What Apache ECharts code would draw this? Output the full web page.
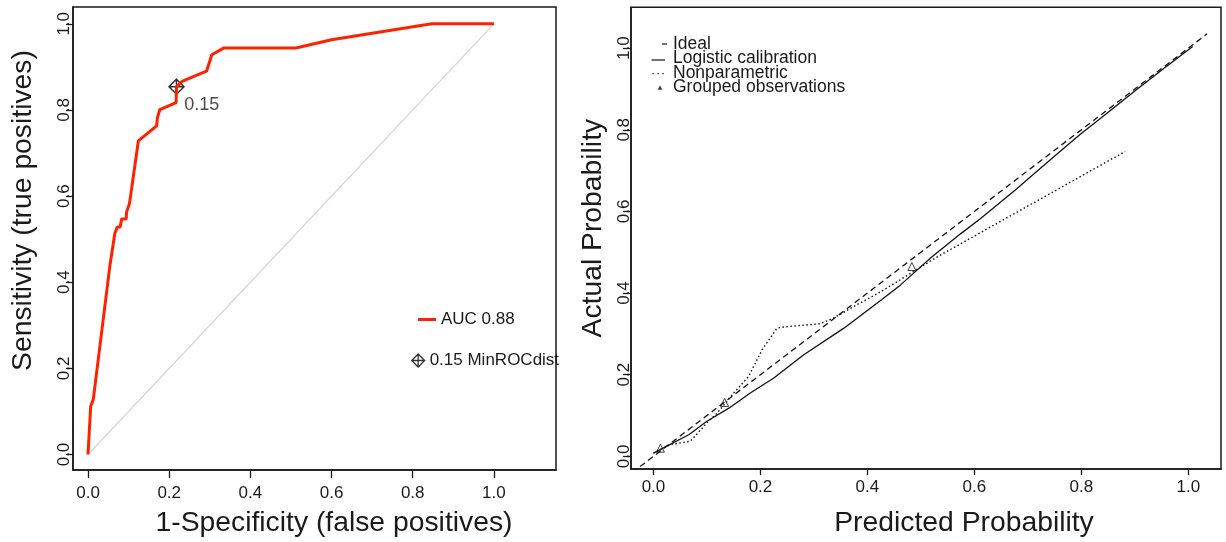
<!DOCTYPE html>
<html><head><meta charset="utf-8">
<script src="https://cdn.jsdelivr.net/npm/echarts@6/dist/echarts.min.js"></script>
<style>html,body{margin:0;padding:0;background:#fff}#c{width:1226px;height:542px}</style>
</head><body><div id="c"></div>
<script>
// ---- data ----
const tickValues = [0, 0.2, 0.4, 0.6, 0.8, 1.0];
const rocFpr = [0, 0.0066, 0.013, 0.054, 0.066, 0.072, 0.079, 0.083, 0.094, 0.095, 0.102, 0.105, 0.124, 0.169, 0.171, 0.177, 0.217, 0.218, 0.233, 0.292, 0.305, 0.335, 0.512, 0.600, 0.847, 1.0];
const rocTpr = [0, 0.112, 0.128, 0.439, 0.513, 0.528, 0.528, 0.547, 0.547, 0.563, 0.582, 0.601, 0.728, 0.763, 0.782, 0.801, 0.817, 0.854, 0.867, 0.890, 0.928, 0.944, 0.944, 0.963, 1.0, 1.0];
const chanceX = [0, 1];
const chanceY = [0, 1];
const cutoffPoint = [0.218, 0.854];
const cutoffLabel = '0.15';
const aucName = 'AUC 0.88';
const cutoffName = '0.15 MinROCdist';
const idealX = [-0.025, 1.035];
const idealY = [-0.025, 1.035];
const logisticPred = [0.0, 0.066, 0.100, 0.141, 0.181, 0.225, 0.281, 0.356, 0.427, 0.462, 0.518, 0.574, 0.611, 0.677, 0.698, 0.755, 0.798, 0.836, 0.904, 0.954, 1.008];
const logisticObs  = [0.008, 0.053, 0.086, 0.118, 0.155, 0.192, 0.249, 0.314, 0.384, 0.420, 0.486, 0.545, 0.582, 0.653, 0.677, 0.741, 0.789, 0.828, 0.899, 0.950, 1.004];
const nonparPred = [0.0, 0.032, 0.069, 0.100, 0.119, 0.150, 0.178, 0.203, 0.231, 0.244, 0.312, 0.337, 0.374, 0.418, 0.462, 0.527, 0.882];
const nonparObs  = [0.008, 0.029, 0.037, 0.082, 0.106, 0.155, 0.196, 0.261, 0.314, 0.317, 0.325, 0.339, 0.367, 0.398, 0.433, 0.486, 0.747];
const groupedPred = [0.013, 0.133, 0.483];
const groupedObs  = [0.020, 0.132, 0.465];
const calNames = ['Ideal', 'Logistic calibration', 'Nonparametric', 'Grouped observations'];

// ---- helpers ----
const zip = (a, b) => a.map((v, i) => [v, b[i]]);
const FONT = '"Liberation Sans", Arial, Helvetica, sans-serif';
const INK = '#1a1a1a';
const DIAMOND = 'path://M10,0 L20,10 L10,20 L0,10 Z M10,0 L10,20 M0,10 L20,10';
// legend glyphs drawn in a 17x6 box (first two moves fix the box)
const ICON_IDEAL = 'path://M0,0 M17,6 M11,2.4 L16,2.4 L16,3.6 L11,3.6 Z';
const ICON_LOGIT = 'path://M0,0 M17,6 M0.5,3.9 L14,3.9 L14,5.1 L0.5,5.1 Z';
const ICON_NONPAR = 'path://M0,0 M17,6 M1.5,3 L2.7,3 L2.7,4.2 L1.5,4.2 Z M6.5,3 L7.7,3 L7.7,4.2 L6.5,4.2 Z M11.5,3 L12.7,3 L12.7,4.2 L11.5,4.2 Z';
const ICON_TRI = 'path://M0,0 M17,6 M6.6,5.2 L9,0.8 L11.4,5.2 Z';

function valAxis(gridIndex, min, max, name, extra) {
  const ax = {
    type: 'value', gridIndex, min, max, name,
    nameLocation: 'middle',
    splitLine: { show: false },
    axisLine: { show: true, onZero: false, lineStyle: { color: INK, width: 1.5 } },
    axisTick: { show: true, customValues: tickValues, length: 7, lineStyle: { color: INK, width: 1.3 } },
    axisLabel: { customValues: tickValues, formatter: v => v.toFixed(1), fontSize: 17, color: INK, fontFamily: FONT },
    nameTextStyle: { fontSize: 28.3, color: INK, fontFamily: FONT }
  };
  for (const k in extra) {
    if (typeof extra[k] === 'object' && !Array.isArray(extra[k]) && ax[k]) Object.assign(ax[k], extra[k]);
    else ax[k] = extra[k];
  }
  return ax;
}

const chart = echarts.init(document.getElementById('c'), null, { renderer: 'canvas' });
chart.setOption({
  backgroundColor: '#fff',
  animation: false,
  textStyle: { fontFamily: FONT },
  grid: [
    { left: 73, top: 7, width: 483, height: 465, show: true, borderColor: INK, borderWidth: 1.5, containLabel: false },
    { left: 631, top: 7.3, width: 590, height: 462, show: true, borderColor: INK, borderWidth: 1.5, containLabel: false }
  ],
  xAxis: [
    valAxis(0, -0.037, 1.153, '1-Specificity (false positives)', {
      nameGap: 39, nameTextStyle: { padding: [0, 0, 0, 39] },
      axisTick: { length: 8 }, axisLabel: { margin: 15 }
    }),
    valAxis(1, -0.042, 1.061, 'Predicted Probability', {
      nameGap: 40, nameTextStyle: { padding: [0, 0, 0, 76] },
      axisTick: { length: 6 }, axisLabel: { margin: 10 }
    })
  ],
  yAxis: [
    valAxis(0, -0.036, 1.039, 'Sensitivity (true positives)', {
      nameGap: 36, nameTextStyle: { padding: [0, 0, 0, 56] },
      axisTick: { length: 7 }, axisLabel: { rotate: 90, margin: 0 }
    }),
    valAxis(1, -0.031, 1.100, 'Actual Probability', {
      nameGap: 24, nameTextStyle: { padding: [0, 0, 0, 20] },
      axisTick: { length: 8 }, axisLabel: { rotate: 90, margin: -2 }
    })
  ],
  legend: [
    {
      left: 418, top: 311, padding: 0, itemWidth: 18, itemHeight: 3, itemGap: 0,
      textStyle: { fontSize: 17, color: INK, fontFamily: FONT },
      data: [{ name: aucName, icon: 'rect', itemStyle: { color: '#ff2200' } }]
    },
    {
      left: 411, top: 352, padding: 0, itemWidth: 13, itemHeight: 13, itemGap: 0,
      textStyle: { fontSize: 17, color: INK, fontFamily: FONT },
      data: [{ name: cutoffName, icon: DIAMOND, itemStyle: { color: 'rgba(0,0,0,0)', borderColor: '#000', borderWidth: 1.3 } }]
    },
    {
      left: 651, top: 35, padding: 0, orient: 'vertical', itemWidth: 17, itemHeight: 6, itemGap: -3.5,
      textStyle: { fontSize: 17.5, color: INK, fontFamily: FONT },
      data: [
        { name: calNames[0], icon: ICON_IDEAL, itemStyle: { color: '#111', borderWidth: 0 } },
        { name: calNames[1], icon: ICON_LOGIT, itemStyle: { color: '#111', borderWidth: 0 } },
        { name: calNames[2], icon: ICON_NONPAR, itemStyle: { color: '#111', borderWidth: 0 } },
        { name: calNames[3], icon: ICON_TRI, itemStyle: { color: '#111', borderWidth: 0 } }
      ]
    }
  ],
  series: [
    {
      name: 'chance', type: 'line', xAxisIndex: 0, yAxisIndex: 0, silent: true,
      data: zip(chanceX, chanceY), showSymbol: false, symbol: 'none',
      lineStyle: { color: '#d4d4d4', width: 1.2 }
    },
    {
      name: aucName, type: 'line', xAxisIndex: 0, yAxisIndex: 0,
      data: zip(rocFpr, rocTpr), showSymbol: false, symbol: 'none',
      itemStyle: { color: '#ff2200' },
      lineStyle: { color: '#ff2200', width: 3 }
    },
    {
      name: cutoffName, type: 'scatter', xAxisIndex: 0, yAxisIndex: 0,
      data: [cutoffPoint], symbol: DIAMOND, symbolSize: 15,
      itemStyle: { color: 'rgba(0,0,0,0)', borderColor: '#000', borderWidth: 1.5 },
      label: { show: true, formatter: cutoffLabel, position: [16, 27], align: 'left', verticalAlign: 'middle',
               fontSize: 18, color: INK, fontFamily: FONT }
    },
    {
      name: calNames[0], type: 'line', xAxisIndex: 1, yAxisIndex: 1,
      data: zip(idealX, idealY), showSymbol: false, symbol: 'none',
      itemStyle: { color: '#000' },
      lineStyle: { color: '#111', width: 1.3, type: [6, 4] }
    },
    {
      name: calNames[1], type: 'line', xAxisIndex: 1, yAxisIndex: 1,
      data: zip(logisticPred, logisticObs), showSymbol: false, symbol: 'none',
      itemStyle: { color: '#000' },
      lineStyle: { color: '#111', width: 1.3 }
    },
    {
      name: calNames[2], type: 'line', xAxisIndex: 1, yAxisIndex: 1,
      data: zip(nonparPred, nonparObs), showSymbol: false, symbol: 'none',
      itemStyle: { color: '#000' },
      lineStyle: { color: '#111', width: 1.4, type: [1.5, 2.5] }
    },
    {
      name: calNames[3], type: 'scatter', xAxisIndex: 1, yAxisIndex: 1,
      data: zip(groupedPred, groupedObs), symbol: 'triangle', symbolSize: 8,
      itemStyle: { color: 'rgba(0,0,0,0)', borderColor: '#111', borderWidth: 1 }
    }
  ]
});
</script>
</body></html>
